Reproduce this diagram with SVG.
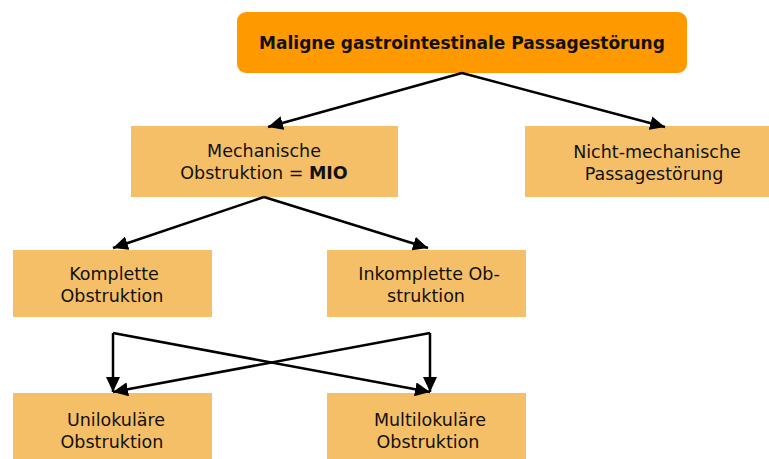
<svg xmlns="http://www.w3.org/2000/svg" width="769" height="459" viewBox="0 0 769 459">
<style>
.box{fill:#F5BF67}
.top{fill:#FF9900}
text{font-family:"DejaVu Sans","Liberation Sans",sans-serif;font-size:17.5px;fill:#111;text-anchor:middle}
.b{font-weight:bold}
.t{font-weight:bold;font-size:17px}
.c{stroke:#000;stroke-width:2.5;fill:none;marker-end:url(#ah)}
</style>
<defs>
<marker id="ah" markerUnits="userSpaceOnUse" markerWidth="16" markerHeight="14" refX="15" refY="7" orient="auto" viewBox="0 0 16 14">
<path d="M0,0 L15,7 L0,14 z" fill="#000"/>
</marker>
</defs>
<rect width="769" height="459" fill="#fff"/>
<g id="n-top">
<rect class="top" x="237" y="12" width="450" height="61" rx="9"/>
<text class="t" x="462" y="49">Maligne gastrointestinale Passagestörung</text>
</g>
<g id="n-mech">
<rect class="box" x="131" y="126" width="267" height="71"/>
<text x="264" y="157">Mechanische</text>
<text x="264" y="179">Obstruktion = <tspan class="b">MIO</tspan></text>
</g>
<g id="n-nicht">
<rect class="box" x="525" y="126" width="262" height="71"/>
<text x="657" y="158">Nicht-mechanische</text>
<text x="654" y="180">Passagestörung</text>
</g>
<g id="n-komplett">
<rect class="box" x="13" y="250" width="199" height="67"/>
<text x="114" y="280">Komplette</text>
<text x="112" y="302">Obstruktion</text>
</g>
<g id="n-inkomplett">
<rect class="box" x="327" y="250" width="199" height="67"/>
<text x="429" y="280">Inkomplette Ob-</text>
<text x="426" y="302">struktion</text>
</g>
<g id="n-uni">
<rect class="box" x="13" y="393" width="199" height="70"/>
<text x="116" y="426">Unilokuläre</text>
<text x="112" y="448">Obstruktion</text>
</g>
<g id="n-multi">
<rect class="box" x="327" y="393" width="199" height="70"/>
<text x="430" y="426">Multilokuläre</text>
<text x="428" y="448">Obstruktion</text>
</g>
<g id="connectors">
<line class="c" x1="462" y1="73" x2="268" y2="127"/>
<line class="c" x1="462" y1="73" x2="665" y2="127"/>
<line class="c" x1="264" y1="197" x2="113" y2="248"/>
<line class="c" x1="264" y1="197" x2="428" y2="248"/>
<line class="c" x1="113" y1="333" x2="113" y2="392"/>
<line class="c" x1="113" y1="333" x2="430" y2="392"/>
<line class="c" x1="430" y1="333" x2="430" y2="392"/>
<line class="c" x1="430" y1="333" x2="113" y2="392"/>
</g>
</svg>
